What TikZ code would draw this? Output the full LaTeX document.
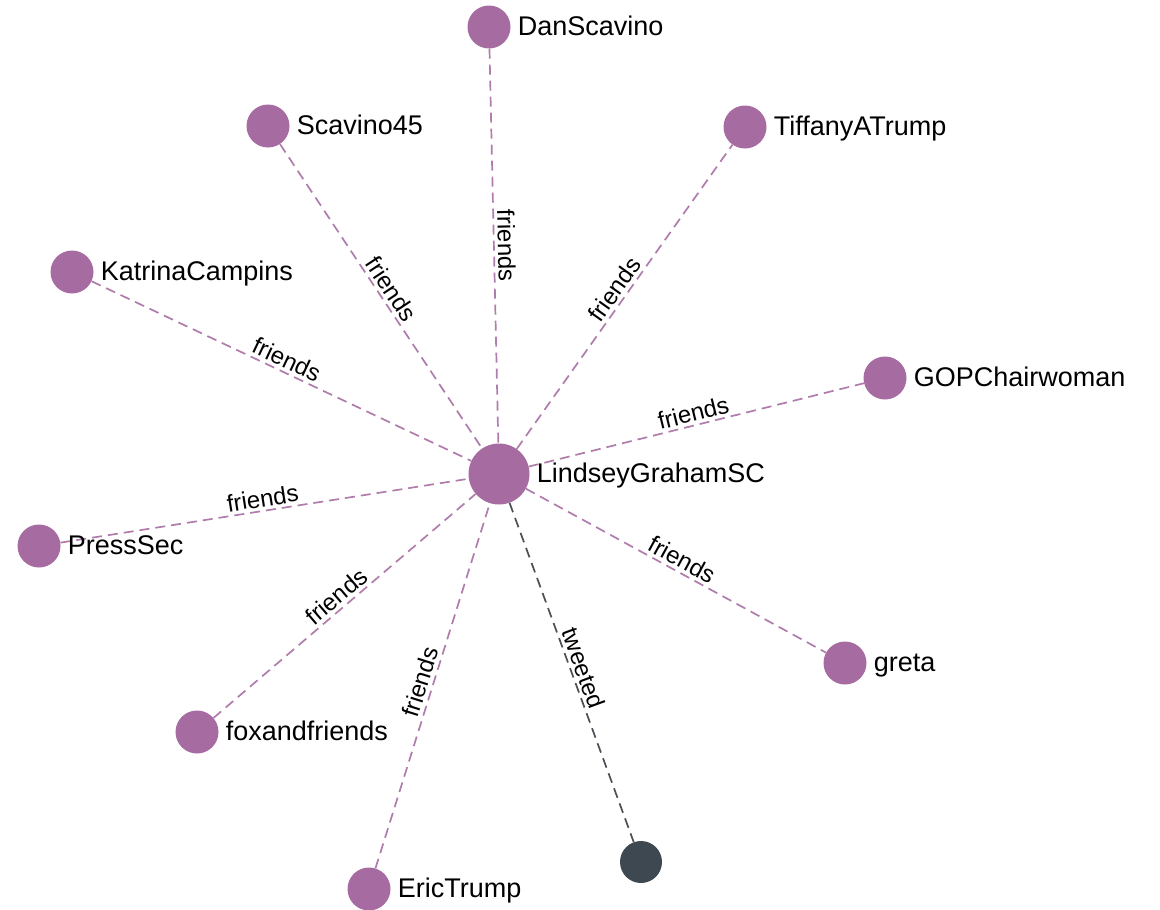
\documentclass[tikz,border=0pt]{standalone}
\usepackage{fontspec}
\setmainfont{Liberation Sans}
\definecolor{nodepurple}{HTML}{A66CA1}
\definecolor{edgepurple}{HTML}{B07CAC}
\definecolor{darknode}{HTML}{3D4851}
\definecolor{edgedark}{HTML}{4A5056}
\begin{document}
\begin{tikzpicture}[x=1pt,y=-1pt,
  person/.style={circle, fill=nodepurple, minimum size=43pt, inner sep=0pt},
  hub/.style={person, minimum size=61pt},
  tweetnode/.style={circle, fill=darknode, minimum size=42pt, inner sep=0pt},
  namelabel/.style={anchor=west, font=\fontsize{27}{31}\selectfont, text=black, inner sep=0pt, text height=17pt, text depth=0pt},
  rel/.style={draw=edgepurple, line width=1.7pt, dash pattern=on 10pt off 6pt},
  twrel/.style={draw=edgedark, line width=1.7pt, dash pattern=on 10pt off 6pt},
  rellabel/.style={midway, sloped, above, font=\fontsize{24}{28}\selectfont, text=black, inner sep=3pt}]
\useasboundingbox (0,0) rectangle (1160,910);
\fill[white] (0,0) rectangle (1160,910);
% nodes
\node[hub] (lg) at (499,474) {};
\node[person] (ds) at (489,27) {};
\node[person] (s45) at (268,126) {};
\node[person] (tt) at (745,127) {};
\node[person] (kc) at (72,272) {};
\node[person] (gop) at (885,378) {};
\node[person] (ps) at (39,546) {};
\node[person] (gr) at (845,663) {};
\node[person] (ff) at (197,732) {};
\node[person] (et) at (369,889) {};
\node[tweetnode] (tw) at (641,862) {};
% edges
\draw[rel] (ds) -- (lg) node[rellabel] (lds) {friends};
\draw[rel] (s45) -- (lg) node[rellabel] (ls45) {friends};
\draw[rel] (lg) -- (tt) node[rellabel] (ltt) {friends};
\draw[rel] (kc) -- (lg) node[rellabel] (lkc) {friends};
\draw[rel] (lg) -- (gop) node[rellabel] (lgop) {friends};
\draw[rel] (ps) -- (lg) node[rellabel] (lps) {friends};
\draw[rel] (lg) -- (gr) node[rellabel] (lgr) {friends};
\draw[rel] (ff) -- (lg) node[rellabel] (lff) {friends};
\draw[rel] (et) -- (lg) node[rellabel] (let) {friends};
\draw[twrel] (lg) -- (tw) node[rellabel] (ltw) {tweeted};
% names
\node[namelabel] (lgN) at ([xshift=7pt]lg.east) {LindseyGrahamSC};
\node[namelabel] (dsN) at ([xshift=7pt]ds.east) {DanScavino};
\node[namelabel] (s45N) at ([xshift=7pt]s45.east) {Scavino45};
\node[namelabel] (ttN) at ([xshift=7pt]tt.east) {TiffanyATrump};
\node[namelabel] (kcN) at ([xshift=7pt]kc.east) {KatrinaCampins};
\node[namelabel] (gopN) at ([xshift=7pt]gop.east) {GOPChairwoman};
\node[namelabel] (psN) at ([xshift=7pt]ps.east) {PressSec};
\node[namelabel] (grN) at ([xshift=7pt]gr.east) {greta};
\node[namelabel] (ffN) at ([xshift=7pt]ff.east) {foxandfriends};
\node[namelabel] (etN) at ([xshift=7pt]et.east) {EricTrump};
\end{tikzpicture}
\end{document}
